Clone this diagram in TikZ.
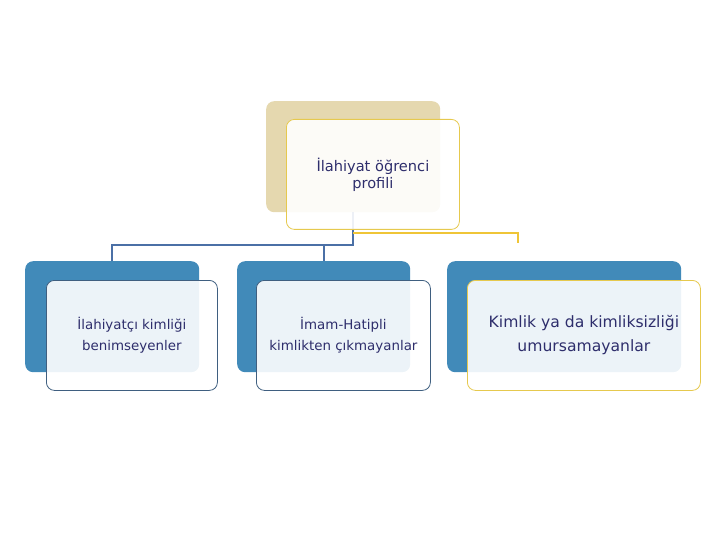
\documentclass[tikz,border=0pt]{standalone}
\usepackage{fontspec}
\setmainfont{DejaVu Sans}
\definecolor{tanback}{HTML}{E5D8AF}
\definecolor{blueback}{HTML}{418AB9}
\definecolor{goldline}{HTML}{EFC537}
\definecolor{goldedge}{HTML}{E6C94E}
\definecolor{slateedge}{HTML}{3F5F80}
\definecolor{navytext}{HTML}{2E2E6C}
\definecolor{blueline}{HTML}{4B70A6}

\tikzset{
	backbox/.style={rounded corners=8pt, inner sep=0pt, anchor=north west},
	frontbox/.style={rounded corners=8pt, fill=white, fill opacity=0.9, text opacity=1, draw, line width=0.8pt, align=center, text=navytext, inner sep=0pt, anchor=north west},
	link/.style={line width=2pt, blueline},
}

\begin{document}
\begin{tikzpicture}[x=1pt, y=-1pt]
	\useasboundingbox (0,0) rectangle (720,540);
	\node[backbox, fill=tanback, minimum width=174pt, minimum height=111pt] (topback) at (266,101) {};
	\node[backbox, fill=blueback, minimum width=174pt, minimum height=111pt] (b1back) at (25,261) {};
	\node[backbox, fill=blueback, minimum width=173pt, minimum height=111pt] (b2back) at (237,261) {};
	\node[backbox, fill=blueback, minimum width=234pt, minimum height=111pt] (b3back) at (447,261) {};
	
	\coordinate (goldend) at (518,243);
	\draw[link] (topback.south) -- ++(0,33) coordinate (split) -| (b1back.north);
	\draw[link] (split) -| (b2back.north);
	\draw[link, goldline] (topback.south) ++(0,21) -| (goldend);
	
	\node[frontbox, draw=goldedge, minimum width=173pt, minimum height=110pt, font=\fontsize{14.6}{17}\selectfont] (top) at (286,119) {İlahiyat öğrenci\\profili};
	\node[frontbox, draw=slateedge, minimum width=171pt, minimum height=110pt, font=\fontsize{13.4}{21}\selectfont] (b1) at (46,280) {İlahiyatçı kimliği\\benimseyenler};
	\node[frontbox, draw=slateedge, minimum width=174pt, minimum height=110pt, font=\fontsize{13.4}{21}\selectfont] (b2) at (256,280) {İmam-Hatipli\\kimlikten çıkmayanlar};
	\node[frontbox, draw=goldedge, minimum width=233pt, minimum height=110pt, font=\fontsize{15.6}{24}\selectfont] (b3) at (467,280) {Kimlik ya da kimliksizliği\\umursamayanlar};
\end{tikzpicture}
\end{document}
